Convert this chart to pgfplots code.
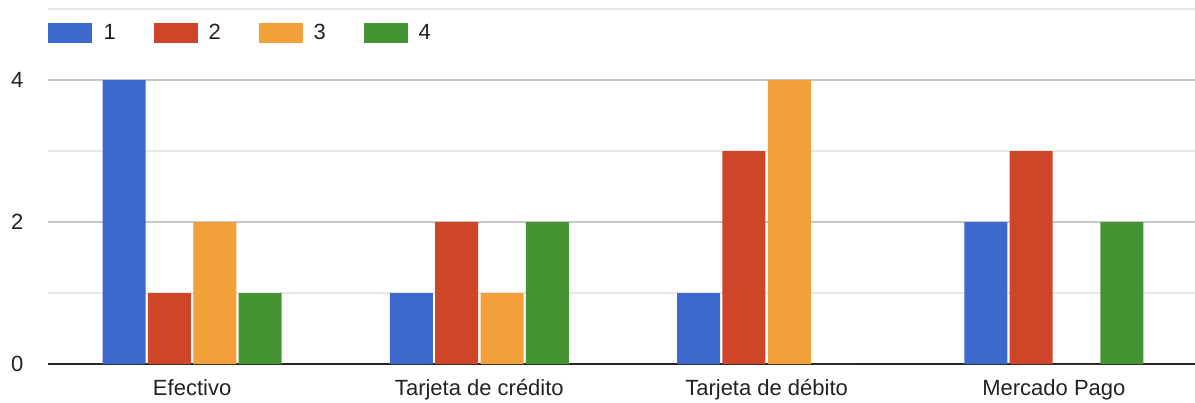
\documentclass[border=0pt]{standalone}
\usepackage{pgfplots}
\pgfplotsset{compat=1.18}
\usepackage{fontspec}
\setmainfont{Liberation Sans}
\definecolor{cA}{HTML}{3D68CC}
\definecolor{cB}{HTML}{CE4627}
\definecolor{cC}{HTML}{F2A03A}
\definecolor{cD}{HTML}{459433}
\definecolor{txt}{HTML}{222222}
\begin{document}
\begin{tikzpicture}
\useasboundingbox (0,0) rectangle (597.5pt,201pt);
\begin{axis}[
  at={(24.25pt,19pt)}, anchor=south west,
  scale only axis, width=574.5pt, height=177.5pt,
  ybar=1.15pt, bar width=21.5pt,
  xmin=-0.5, xmax=3.5, ymin=0, ymax=5,
  xtick={0,1,2,3},
  xticklabels={Efectivo, Tarjeta de crédito, Tarjeta de débito, Mercado Pago},
  ytick={0,2,4}, minor ytick={1,3,5},
  ymajorgrids, yminorgrids,
  major grid style={draw=black!22, line width=0.6pt},
  minor grid style={draw=black!9, line width=0.6pt},
  axis x line=bottom, axis y line=left,
  x axis line style={draw=black!85, line width=0.8pt, -},
  y axis line style={draw=none},
  major tick length=0pt, minor tick length=0pt,
  /pgf/number format/assume math mode=true,
  tick label style={font=\fontsize{11}{13}\selectfont, text=txt},
  yticklabel style={xshift=-9pt},
  xticklabel style={yshift=-4pt},
  clip=false,
  legend style={at={(0,0.932)}, anchor=west, draw=none, fill=none,
    inner sep=0pt, outer sep=0pt, legend columns=4,
    font=\fontsize{11}{13}\selectfont, text=txt,
    /tikz/every odd column/.append style={column sep=3.5pt},
    /tikz/every even column/.append style={column sep=16.9pt}},
  legend image code/.code={\fill[#1] (0pt,-5pt) rectangle (22pt,5pt);},
  legend cell align=left,
]
\addplot[fill=cA, draw=none] coordinates {(0,4) (1,1) (2,1) (3,2)};
\addplot[fill=cB, draw=none] coordinates {(0,1) (1,2) (2,3) (3,3)};
\addplot[fill=cC, draw=none] coordinates {(0,2) (1,1) (2,4) (3,0)};
\addplot[fill=cD, draw=none] coordinates {(0,1) (1,2) (2,0) (3,2)};
\legend{1,2,3,4}
\end{axis}
\end{tikzpicture}
\end{document}
